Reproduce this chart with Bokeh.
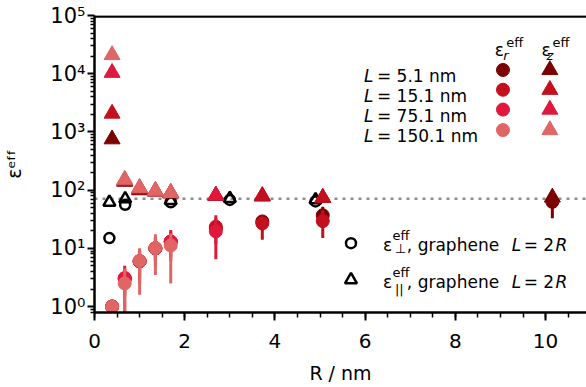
import numpy as np
from bokeh.plotting import figure
from bokeh.models import Span, Label, FixedTicker, SingleIntervalTicker, CustomJSTickFormatter
from bokeh.embed import file_html
from bokeh.resources import INLINE

# ---------------- data ----------------
L_labels = ["5.1", "15.1", "75.1", "150.1"]
colors = ["#7d0000", "#c3101f", "#e0183c", "#e06666"]

R_cnt = [0.39, 0.67, 1.0, 1.35, 1.69, 2.69, 3.72, 5.06, 10.15]

# eps_r (circles) with error bars, eps_z (triangles)
er_51 = [1.0, 3.0, 6.0, 10.0, 13.0, 22.0, 29.0, 37.0, 63.0]
er_51_lo = [1.0, 2.0, 4.0, 7.0, 9.0, 15.0, 20.0, 28.0, 33.0]
er_51_hi = [1.0, 4.0, 8.0, 13.0, 17.0, 30.0, 35.0, 52.0, 95.0]
ez_51 = [750, 140, 100, 95, 88, 80, 78, 74, 75]

er_151 = [1.0, 3.0, 6.0, 10.0, 13.0, 23.5, 26.9, 29.4]
er_151_lo = [1.0, 1.5, 3.0, 6.0, 7.0, 12.0, 14.0, 15.0]
er_151_hi = [1.0, 4.5, 9.0, 15.0, 19.0, 33.0, 35.0, 45.0]
ez_151 = [2070, 145, 104, 96, 89, 81, 80, 74]

er_751 = [1.0, 3.1, 6.0, 10.0, 13.1, 19.6]
er_751_lo = [1.0, 0.5, 2.5, 5.0, 6.0, 6.5]
er_751_hi = [1.0, 5.0, 9.5, 16.0, 20.6, 37.0]
ez_751 = [10400, 148, 108, 97, 90, 81]

er_1501 = [1.0, 2.5, 6.1, 10.1, 11.2]
er_1501_lo = [1.0, 0.5, 1.6, 3.5, 2.5]
er_1501_hi = [1.0, 4.5, 10.0, 17.4, 18.0]
ez_1501 = [21000, 152, 110, 98, 90]

R_gr = [0.33, 0.68, 1.69, 3.0, 4.9]
eps_perp_gr = [15.0, 56.0, 62.0, 68.0, 64.0]
eps_par_gr = [62.0, 71.0, 66.0, 72.0, 68.0]

eps_ref = 71.0

x_ticks = [0, 2, 4, 6, 8, 10]
y_ticks = [1, 10, 100, 1000, 10000, 100000]

series = [
    (er_51, er_51_lo, er_51_hi, ez_51),
    (er_151, er_151_lo, er_151_hi, ez_151),
    (er_751, er_751_lo, er_751_hi, ez_751),
    (er_1501, er_1501_lo, er_1501_hi, ez_1501),
]

# ---------------- layout helpers (image pixels -> data) ----------------
FONT = "DejaVu Sans"
X_LEFT, PX_PER_UNIT = 93.0, 45.2
Y_TOP, PX_PER_DEC = 15.0, 58.8
W, H = 586, 386


def px_x(X):
    return (X - X_LEFT) / PX_PER_UNIT


def px_y(Y):
    return 10 ** (5 - (Y - Y_TOP) / PX_PER_DEC)


p = figure(width=W, height=H, output_backend="svg", toolbar_location=None,
           y_axis_type="log", x_range=(0, px_x(W)), y_range=(px_y(315), 1e5),
           title=None)
p.min_border_left = 93
p.min_border_right = 0
p.min_border_top = 15
p.min_border_bottom = H - 315
p.outline_line_color = None
p.xgrid.visible = False
p.ygrid.visible = False
p.background_fill_color = "white"
p.border_fill_color = "white"

# axes
p.xaxis.ticker = SingleIntervalTicker(interval=2, num_minor_ticks=4)
minor_y = [k * 10.0 ** n for n in range(-1, 5) for k in range(2, 10)]
p.yaxis.ticker = FixedTicker(ticks=y_ticks, minor_ticks=minor_y)
p.yaxis.formatter = CustomJSTickFormatter(code="""
const sup = {'0':'\u2070','1':'\u00b9','2':'\u00b2','3':'\u00b3','4':'\u2074','5':'\u2075','-':'\u207b'};
const e = Math.round(Math.log10(tick));
return '10' + String(e).split('').map(c => sup[c]).join('');
""")
for ax in (p.xaxis[0], p.yaxis[0]):
    ax.axis_line_width = 2.5
    ax.axis_line_color = "black"
    ax.major_tick_line_width = 2
    ax.minor_tick_line_width = 1.5
    ax.major_tick_in = 0
    ax.minor_tick_in = 0
    ax.major_label_text_font = FONT
    ax.major_label_text_font_size = "20px"
    ax.major_label_text_color = "black"
    ax.axis_label_text_font = FONT
    ax.axis_label_text_font_size = "19px"
    ax.axis_label_text_font_style = "normal"
    ax.axis_label_text_color = "black"
p.yaxis.major_label_text_font_size = "21px"
p.xaxis.major_tick_out = 8
p.xaxis.minor_tick_out = 5
p.yaxis.major_tick_out = 7
p.yaxis.minor_tick_out = 4
p.xaxis.major_label_standoff = 13
p.yaxis.major_label_standoff = 2
p.xaxis.axis_label = "R / nm"
p.xaxis.axis_label_standoff = 11
p.yaxis.axis_label = "\u03b5\u1d49\u1da0\u1da0"
p.yaxis.axis_label_standoff = 22

# top spine and reference line
p.add_layout(Span(location=px_y(16.0), dimension="width", line_color="black", line_width=2.5))
p.add_layout(Span(location=eps_ref, dimension="width", line_color="#8c8c8c",
                  line_width=2.5, line_dash="3 5", level="underlay"))

# graphene (beneath)
p.scatter(R_gr, eps_perp_gr, marker="circle", size=10, fill_color=None,
          line_color="black", line_width=2.5)
p.scatter(R_gr, eps_par_gr, marker="triangle", size=12, fill_color=None,
          line_color="black", line_width=2.5)

# CNT series
for (er, lo, hi, ez), c in zip(series, colors):
    n_r = len(er)
    xs = R_cnt[:n_r]
    p.segment(x0=xs, y0=lo, x1=xs, y1=hi, line_color=c, line_width=3)
    p.scatter(xs, er, marker="circle", size=13, color=c)
    p.scatter(R_cnt[:len(ez)], ez, marker="triangle", size=16, color=c)


def lab(text, X, Y, size, style="normal", angle=0.0, align="left"):
    p.add_layout(Label(x=px_x(X), y=px_y(Y), text=text, text_font=FONT,
                       text_font_size=f"{size}px", text_font_style=style,
                       text_color="black", text_align=align,
                       text_baseline="alphabetic", angle=angle))


# legend 1 (CNT)
row_Y = [70, 90, 110, 130.7]
p.scatter([px_x(502.3)] * 4, [px_y(Y) for Y in row_Y], marker="circle", size=13, color=colors)
p.scatter([px_x(549.3)] * 4, [px_y(Y) for Y in row_Y], marker="triangle", size=16, color=colors)
for Lb, Y in zip(L_labels, row_Y):
    lab("L", 363, Y + 6.3, 17, "italic")
    lab(f"= {Lb} nm", 376, Y + 6.3, 17)
lab("\u03b5", 494, 50, 17)
lab("eff", 505.5, 42.3, 13)
lab("r", 502.5, 55, 13, "italic")
lab("\u03b5", 541, 50, 17)
lab("eff", 552, 42.3, 13)
lab("z", 546, 55.5, 13, "italic")

# legend 2 (graphene)
p.scatter([px_x(350)], [px_y(245)], marker="circle", size=10, fill_color=None,
          line_color="black", line_width=2.5)
p.scatter([px_x(350)], [px_y(282)], marker="triangle", size=12, fill_color=None,
          line_color="black", line_width=2.5)
for Yb, sub, dy in ((246.7, "\u22a5", 3.8), (284.0, "||", 7.5)):
    lab("\u03b5", 382, Yb, 17)
    lab("eff", 391.5, Yb - 9.7, 13)
    lab(sub, 394, Yb + dy, 13)
    lab(", graphene", 406, Yb, 17)
    lab("L", 511, Yb, 17, "italic")
    lab("= 2", 523, Yb, 17)
    lab("R", 555, Yb, 17, "italic")

open("out.html", "w").write(file_html(p, INLINE))
